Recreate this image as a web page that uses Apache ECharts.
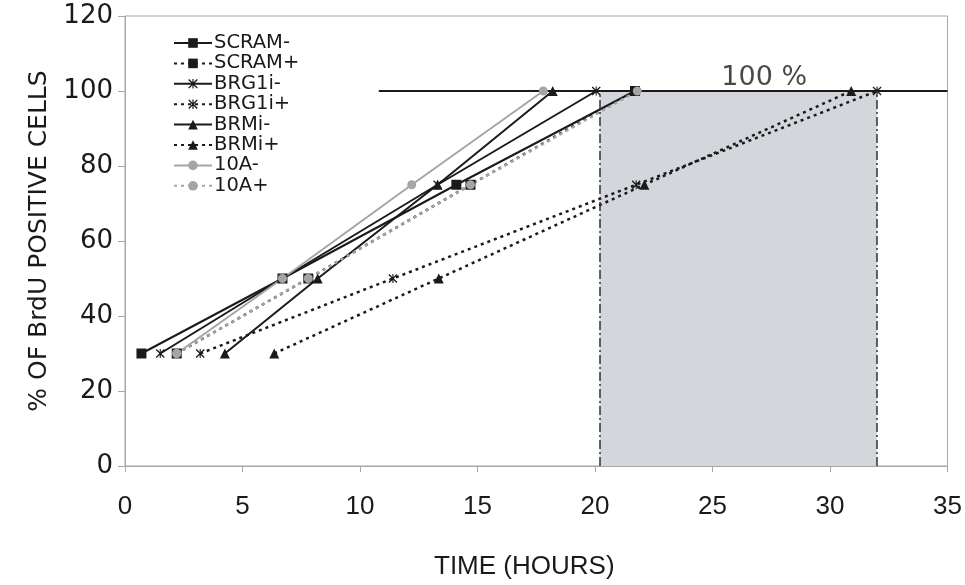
<!DOCTYPE html>
<html>
<head>
<meta charset="utf-8">
<title>BrdU</title>
<script src="https://cdn.jsdelivr.net/npm/echarts@6/dist/echarts.min.js"></script>
<style>
  * { margin: 0; padding: 0; }
  body { background: #fff; }
  #main { width: 965px; height: 585px; }
</style>
</head>
<body>
<div id="main"></div>
<script type="text/javascript">
// y levels shared by every series
var levels = [30, 50, 75, 100];
// time (hours) at which each level is reached
var scramMinus = [0.7, 6.7, 14.1, 21.7];
var scramPlus  = [2.2, 7.8, 14.7, 21.7];
var brg1iMinus = [1.5, 6.7, 13.3, 20.05];
var brg1iPlus  = [3.2, 11.4, 21.75, 32.0];
var brmiMinus  = [4.25, 8.2, 13.3, 18.2];
var brmiPlus   = [6.35, 13.35, 22.1, 30.9];
var a10Minus   = [2.2, 6.7, 12.2, 17.8];
var a10Plus    = [2.2, 7.8, 14.7, 21.8];

var seriesNames = ['SCRAM-', 'SCRAM+', 'BRG1i-', 'BRG1i+', 'BRMi-', 'BRMi+', '10A-', '10A+'];

// reference marks
var shadeRange = [20.2, 32];
var fullLine = [10.8, 35];
var fullLevel = 100;
var fullLabel = '100 %';
var fullLabelPos = [27.2, 103.5];

var xTicks = { min: 0, max: 35, interval: 5 };
var yTicks = { min: 0, max: 120, interval: 20 };

function pairs(xs) {
  var out = [];
  for (var i = 0; i < xs.length; i++) out.push([xs[i], levels[i]]);
  return out;
}

var star = 'path://M0,1L1,0L5,4L9,0L10,1L6,5L10,9L9,10L5,6L1,10L0,9L4,5Z M4.4,0H5.6V10H4.4Z';
var black = '#1a1a1a';
var gray = '#a3a6a9';
var dash = [3, 4];

function mk(name, xs, symbol, color, dashed) {
  return {
    name: name,
    type: 'line',
    z: 3,
    data: pairs(xs),
    symbol: symbol,
    symbolSize: symbol === 'triangle' ? 10 : (symbol === 'rect' ? 10 : 9),
    showAllSymbol: true,
    itemStyle: { color: color, opacity: 1 },
    lineStyle: { color: color, width: dashed ? 2.5 : 2, type: dashed ? dash : 'solid' },
    emphasis: { disabled: true },
    animation: false
  };
}

var myChart = echarts.init(document.getElementById('main'));

var option = {
  animation: false,
  grid: { left: 125, right: 16, top: 16, bottom: 118, show: true, borderColor: '#a8a8a8', borderWidth: 1 },
  legend: {
    data: seriesNames,
    orient: 'vertical',
    left: 168,
    top: 28,
    itemWidth: 38,
    itemHeight: 12,
    itemGap: 0.4,
    textStyle: { fontFamily: 'DejaVu Sans', fontSize: 19.5, color: '#1a1a1a', lineHeight: 20, padding: [0, 0, 0, -3] },
    selectedMode: false
  },
  xAxis: {
    type: 'value',
    min: xTicks.min, max: xTicks.max, interval: xTicks.interval,
    name: 'TIME (HOURS)',
    nameLocation: 'middle',
    nameGap: 88,
    nameTextStyle: { fontFamily: 'Liberation Sans', fontSize: 26, color: '#1a1a1a', padding: [0, 24, 0, 0] },
    axisLine: { lineStyle: { color: '#a8a8a8', width: 1 } },
    axisTick: { show: true, length: 6, lineStyle: { color: '#a8a8a8' } },
    axisLabel: { fontFamily: 'Liberation Sans', fontSize: 26, color: '#1a1a1a', margin: 28 },
    splitLine: { show: false }
  },
  yAxis: {
    type: 'value',
    min: yTicks.min, max: yTicks.max, interval: yTicks.interval,
    name: '% OF BrdU POSITIVE CELLS',
    nameLocation: 'middle',
    nameGap: 57,
    nameTextStyle: { fontFamily: 'DejaVu Sans', fontSize: 25, color: '#1a1a1a' },
    axisLine: { show: true, lineStyle: { color: '#a8a8a8', width: 1 } },
    axisTick: { show: true, length: 7, lineStyle: { color: '#a8a8a8' } },
    axisLabel: { fontFamily: 'DejaVu Sans', fontSize: 26, color: '#1a1a1a', margin: 12 },
    splitLine: { show: false }
  },
  series: [
    {
      // shaded window + reference lines
      name: 'ref',
      type: 'line',
      z: 1,
      data: [[fullLine[0], fullLevel], [fullLine[1], fullLevel]],
      symbol: 'none',
      lineStyle: { color: black, width: 2 },
      markArea: {
        silent: true,
        itemStyle: { color: '#d3d7db' },
        data: [[{ coord: [shadeRange[0], 0] }, { coord: [shadeRange[1], fullLevel] }]]
      },
      markLine: {
        silent: true,
        symbol: 'none',
        label: { show: false },
        lineStyle: { color: '#333', width: 1.5, type: [9, 3, 2, 3] },
        data: [
          [{ coord: [shadeRange[0], 0] }, { coord: [shadeRange[0], fullLevel] }],
          [{ coord: [shadeRange[1], 0] }, { coord: [shadeRange[1], fullLevel] }]
        ]
      },
      animation: false
    },
    {
      name: 'label',
      type: 'scatter',
      z: 2,
      data: [fullLabelPos],
      symbolSize: 0,
      label: { show: true, position: 'inside', formatter: fullLabel, fontFamily: 'DejaVu Sans', fontSize: 27, color: '#1a1a1a' },
      animation: false
    },
    mk('SCRAM-', scramMinus, 'rect', black, false),
    mk('SCRAM+', scramPlus, 'rect', black, true),
    mk('BRG1i-', brg1iMinus, star, black, false),
    mk('BRG1i+', brg1iPlus, star, black, true),
    mk('BRMi-', brmiMinus, 'triangle', black, false),
    mk('BRMi+', brmiPlus, 'triangle', black, true),
    mk('10A-', a10Minus, 'circle', gray, false),
    mk('10A+', a10Plus, 'circle', gray, true)
  ]
};
myChart.setOption(option);
</script>
</body>
</html>
